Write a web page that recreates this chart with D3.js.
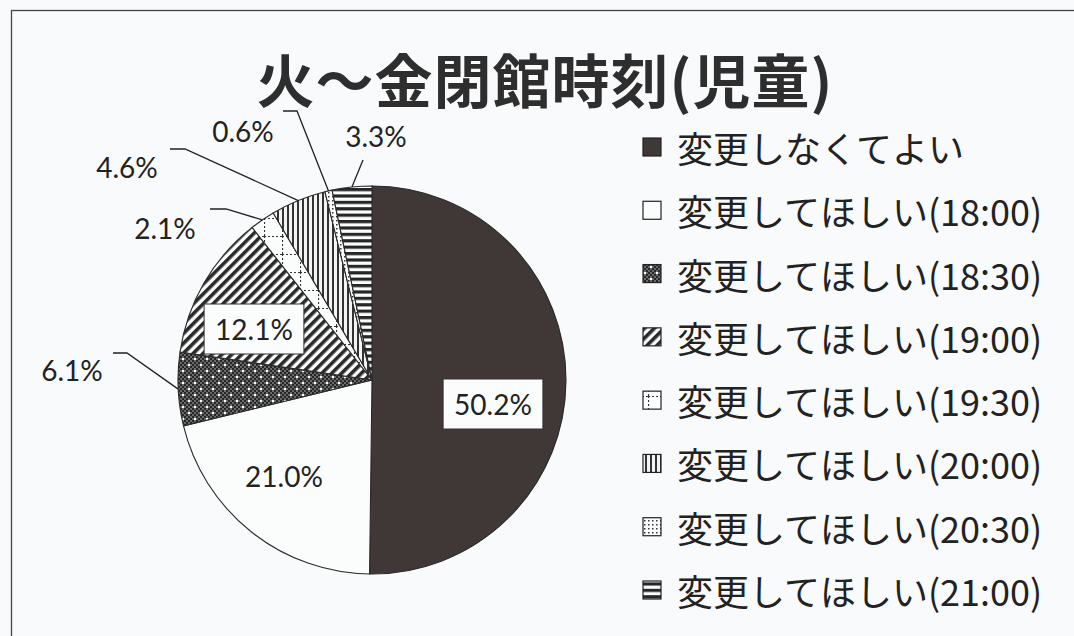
<!DOCTYPE html>
<html><head><meta charset="utf-8">
<script src="https://cdn.jsdelivr.net/npm/d3@7"></script>
<style>
html,body{margin:0;padding:0;background:#f8fafb;}
svg{display:block;}
</style></head>
<body>
<svg id="chart" width="1074" height="636"></svg>
<script>
// ---- data ----
const title = "火～金閉館時刻(児童)";
const categories = ["変更しなくてよい","変更してほしい(18:00)","変更してほしい(18:30)","変更してほしい(19:00)","変更してほしい(19:30)","変更してほしい(20:00)","変更してほしい(20:30)","変更してほしい(21:00)"];
const values = [50.2, 21.0, 6.1, 12.1, 2.1, 4.6, 0.6, 3.3];
const valueLabels = ["50.2%","21.0%","6.1%","12.1%","2.1%","4.6%","0.6%","3.3%"];

// ---- layout (positions of labels, not data) ----
const labelLayout = [
  {x:493, y:404, box:true},
  {x:284, y:476},
  {x:72,  y:370, leader:[[113,353],[127,353]]},
  {x:254, y:329, box:true},
  {x:165, y:228, leader:[[210,209],[226,209]]},
  {x:127, y:167, leader:[[170,149],[185,149]]},
  {x:243, y:131, leader:[[283,111],[297,111]]},
  {x:376, y:136, leader:[[363,160]]}
];
const patternIds = ["pSolid","pWhite","pCheck","pDiag","pGrid","pVert","pDots","pHoriz"];

const svg = d3.select("#chart");
const W = 1074, H = 636;
svg.append("rect").attr("width",W).attr("height",H).attr("fill","#f8fafb");
// frame
svg.append("rect").attr("x",11.5).attr("y",10.5).attr("width",1100).attr("height",700)
  .attr("fill","none").attr("stroke","#444").attr("stroke-width",1.3);

// ---- patterns ----
const defs = svg.append("defs");
const dark = "#3f3836";
function pat(id,w,h,transform){
  const p = defs.append("pattern").attr("id",id).attr("patternUnits","userSpaceOnUse")
    .attr("width",w).attr("height",h);
  if(transform) p.attr("patternTransform",transform);
  return p;
}
let p;
p = pat("pSolid",4,4); p.append("rect").attr("width",4).attr("height",4).attr("fill",dark);
p = pat("pWhite",4,4); p.append("rect").attr("width",4).attr("height",4).attr("fill","#fbfcfc");
// dense checker with white dots
p = pat("pCheck",12,12);
p.append("rect").attr("width",12).attr("height",12).attr("fill","#6a6a6a");
for(let i=0;i<12;i+=2) for(let j=0;j<12;j+=2){ if(((i+j)/2)%2===0) p.append("rect").attr("x",i).attr("y",j).attr("width",2).attr("height",2).attr("fill","#262626"); }
p.append("rect").attr("x",2).attr("y",2).attr("width",2).attr("height",2).attr("fill","#fff");
p.append("rect").attr("x",8).attr("y",8).attr("width",2).attr("height",2).attr("fill","#fff");
// diagonal stripes "/"
p = pat("pDiag",7,7,"rotate(45)");
p.append("rect").attr("width",7).attr("height",7).attr("fill","#fbfcfc");
p.append("rect").attr("width",3.6).attr("height",7).attr("fill","#2b2a2a");
// dashed grid
p = pat("pGrid",18,18);
p.append("rect").attr("width",18).attr("height",18).attr("fill","#fbfcfc");
p.append("path").attr("d","M0,0.5H18M0.5,0V18").attr("stroke","#333").attr("stroke-width",1.2).attr("stroke-dasharray","2,2");
// vertical lines
p = pat("pVert",5,5);
p.append("rect").attr("width",5).attr("height",5).attr("fill","#f4f4f4");
p.append("rect").attr("width",2).attr("height",5).attr("fill","#333");
// dots
p = pat("pDots",4,4);
p.append("rect").attr("width",4).attr("height",4).attr("fill","#fbfcfc");
p.append("rect").attr("width",1.5).attr("height",1.5).attr("fill","#333");
// horizontal stripes
p = pat("pHoriz",6.4,6.4);
p.append("rect").attr("width",6.4).attr("height",6.4).attr("fill","#fbfcfc");
p.append("rect").attr("width",6.4).attr("height",3.2).attr("fill","#262626");

// ---- title ----
svg.append("text").attr("x",545).attr("y",103).attr("text-anchor","middle")
  .attr("font-family","'Noto Sans CJK JP'").attr("font-weight",700).attr("font-size",58)
  .attr("letter-spacing",1).attr("fill","#2e2e2e").text(title);

// ---- pie ----
const cx = 372, cy = 380, R = 194;
const pie = d3.pie().sort(null).value(d=>d)(values);
const arc = d3.arc().innerRadius(0).outerRadius(R);
const g = svg.append("g").attr("transform",`translate(${cx},${cy})`);
g.selectAll("path.slice").data(pie).join("path").attr("class","slice")
  .attr("d",arc).attr("fill",(d,i)=>`url(#${patternIds[i]})`)
  .attr("stroke","#2a2a2a").attr("stroke-width",1.1);

// ---- leaders ----
const line = d3.line();
pie.forEach((d,i)=>{
  const L = labelLayout[i];
  if(!L.leader) return;
  const a = (d.startAngle+d.endAngle)/2;
  const end = [cx + R*Math.sin(a), cy - R*Math.cos(a)];
  svg.append("path").attr("d",line([...L.leader,end])).attr("fill","none")
    .attr("stroke","#222").attr("stroke-width",1.3);
});

// ---- value labels ----
pie.forEach((d,i)=>{
  const L = labelLayout[i];
  const t = svg.append("text").attr("x",L.x).attr("y",L.y).attr("text-anchor","middle")
    .attr("dominant-baseline","central").attr("font-family","Lato").attr("font-size",28)
    .attr("fill","#222").text(valueLabels[i]);
  if(L.box){
    const b = t.node().getBBox();
    svg.insert("rect", () => t.node()).attr("x",b.x-11).attr("y",L.y-25).attr("width",b.width+22).attr("height",50)
      .attr("fill","#fbfcfc").attr("stroke","#333").attr("stroke-width",1);
  }
});

// ---- legend ----
const ly = d3.scalePoint().domain(categories).range([147,590]);
const lg = svg.append("g");
categories.forEach((c,i)=>{
  const y = ly(c);
  lg.append("rect").attr("x",643).attr("y",y-9).attr("width",18).attr("height",18)
    .attr("fill",`url(#${patternIds[i]})`).attr("stroke","#222").attr("stroke-width",1.2);
  lg.append("text").attr("x",677).attr("y",y).attr("dominant-baseline","central")
    .attr("font-family","'Noto Sans CJK JP'").attr("font-size",36).attr("fill","#222").text(c);
});
</script>
</body></html>
